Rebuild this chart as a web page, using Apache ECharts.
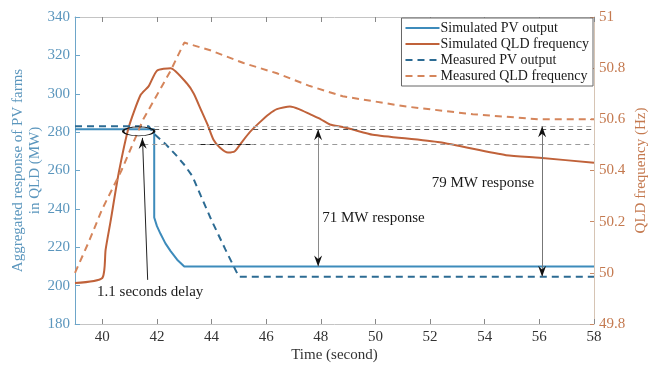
<!DOCTYPE html>
<html>
<head>
<meta charset="utf-8">
<script src="https://cdn.jsdelivr.net/npm/echarts@6/dist/echarts.min.js"></script>
<style>
  html, body { margin: 0; padding: 0; background: #fff; }
  #chart { width: 648px; height: 372px; }
</style>
</head>
<body>
<div id="chart"></div>
<script>
// values: time in seconds, PV in MW, frequency in Hz
const xTicks = [40, 42, 44, 46, 48, 50, 52, 54, 56, 58];

const simPV = [
  [39, 281.5], [41.9, 281.5], [41.9, 235.5], [42.0, 231], [42.13, 227], [42.31, 222],
  [42.5, 218], [42.74, 213.5], [43.0, 210], [58, 210],
];
const measPV = [
  [39, 283], [41.7, 283], [41.9, 279], [42.3, 274], [42.7, 268], [43.0, 263], [43.3, 257],
  [43.6, 247], [44.0, 234], [44.5, 219], [45.0, 204.6], [58, 204.6],
];
const simQLD = [
  [39, 49.96], [40, 49.98], [40.12, 50.09], [40.3, 50.2], [40.6, 50.39], [40.97, 50.57],
  [41.4, 50.695], [41.7, 50.73], [42.0, 50.79], [42.5, 50.8], [43.1, 50.74], [43.35, 50.7],
  [43.6, 50.64], [43.85, 50.58], [44.07, 50.52], [44.3, 50.49], [44.6, 50.47], [44.85, 50.475],
  [45.1, 50.51], [45.4, 50.55], [45.78, 50.59], [46.1, 50.62], [46.39, 50.64], [46.87, 50.65],
  [47.2, 50.64], [47.6, 50.62], [48.0, 50.6], [48.33, 50.58], [48.8, 50.57], [49.17, 50.56],
  [49.9, 50.54], [52.35, 50.51], [54.78, 50.46], [56.0, 50.45], [58, 50.43],
];
const measQLD = [
  [39, 50.0], [39.5, 50.12], [40, 50.25], [40.7, 50.4], [41.5, 50.6], [42.5, 50.79],
  [43, 50.9], [43.95, 50.87], [45.17, 50.82], [46.39, 50.78], [47.6, 50.73], [48.8, 50.69],
  [51.13, 50.65], [53.56, 50.62], [56.0, 50.6], [58, 50.6],
];

// guide lines and arrows, in MW on the left axis
const guideLines = [
  { from: [41.9, 283], to: [58, 283], color: '#b5b5b5' },
  { from: [41.9, 281.5], to: [58, 281.5], color: '#555' },
  { from: [41.5, 273.5], to: [58, 273.5], color: '#9a9a9a' },
  { from: [43.6, 273.5], to: [45.6, 273.5], color: '#222' },
];
const arrows = [
  { from: [41.66, 203], to: [41.47, 277], color: '#222', both: false },
  { from: [47.9, 210], to: [47.9, 281.5], color: '#8a8a8a', both: true },
  { from: [56.1, 204.6], to: [56.1, 283], color: '#777', both: true },
];
const notes = [
  { text: '1.1 seconds delay', at: [39.79, 196.6] },
  { text: '71 MW response', at: [48.03, 235] },
  { text: '79 MW response', at: [52.04, 253.2] },
];
const delayRing = [41.33, 280.4];

const FONT = 'Liberation Serif';
const BLUE_AXIS = '#5b96bd';
const ORANGE_AXIS = '#c4794f';
const ARROW = 'path://M0,0 L5,12 L0,8 L-5,12 Z';

const arrowHeads = [];
arrows.forEach((a) => {
  arrowHeads.push({ coord: a.to, symbol: ARROW, symbolSize: [8, 11], symbolOffset: [0, '50%'],
    symbolRotate: a.both ? 0 : 2, itemStyle: { color: '#111' } });
  if (a.both) {
    arrowHeads.push({ coord: a.from, symbol: ARROW, symbolSize: [8, 11], symbolOffset: [0, '-50%'],
      symbolRotate: 180, itemStyle: { color: '#111' } });
  }
});

const noteMarks = notes.map((n) => ({
  coord: n.at,
  symbol: 'circle',
  symbolSize: 1,
  itemStyle: { color: 'rgba(0,0,0,0)' },
  label: { show: true, position: 'right', distance: 0, formatter: n.text,
    color: '#1a1a1a', fontFamily: FONT, fontSize: 15 },
}));

const chart = echarts.init(document.getElementById('chart'));

chart.setOption({
  animation: false,
  backgroundColor: '#fff',
  textStyle: { fontFamily: FONT },
  grid: { left: 75, right: 54, top: 17, bottom: 48, containLabel: false, outerBoundsMode: 'none' },
  legend: {
    data: ['Simulated PV output', 'Simulated QLD frequency', 'Measured PV output', 'Measured QLD frequency'],
    orient: 'vertical',
    right: 55,
    top: 18,
    padding: [3, 4, 3, 3],
    itemWidth: 34,
    itemHeight: 14,
    itemGap: 2,
    backgroundColor: '#fff',
    borderColor: '#666',
    borderWidth: 1,
    itemStyle: { opacity: 0, color: 'rgba(0,0,0,0)', borderWidth: 0 },
    textStyle: { fontFamily: FONT, fontSize: 14, color: '#1a1a1a', padding: [0, 0, 0, -4] },
  },
  xAxis: [
    {
      type: 'value',
      min: 39,
      max: 58,
      name: 'Time (second)',
      nameLocation: 'middle',
      nameGap: 24,
      nameMoveOverlap: false,
      nameTextStyle: { fontFamily: FONT, fontSize: 15, color: '#333' },
      axisLine: { lineStyle: { color: '#c4c4c4' } },
      axisTick: { inside: true, length: 5, customValues: xTicks, lineStyle: { color: '#888' } },
      axisLabel: { customValues: xTicks, margin: 6, fontFamily: FONT, fontSize: 15, color: '#333' },
      splitLine: { show: false },
    },
    {
      type: 'value',
      position: 'top',
      min: 39,
      max: 58,
      axisLine: { lineStyle: { color: '#c4c4c4' } },
      axisTick: { inside: true, length: 5, customValues: xTicks, lineStyle: { color: '#888' } },
      axisLabel: { show: false },
      splitLine: { show: false },
    },
  ],
  yAxis: [
    {
      type: 'value',
      min: 180,
      max: 340,
      interval: 20,
      name: 'Aggregated response of PV farms\nin QLD (MW)',
      nameLocation: 'middle',
      nameGap: 31,
      nameMoveOverlap: false,
      nameTextStyle: { fontFamily: FONT, fontSize: 15, color: BLUE_AXIS, lineHeight: 17 },
      axisLine: { show: true, lineStyle: { color: '#6ea6c9' } },
      axisTick: { show: true, inside: true, length: 5, lineStyle: { color: '#6ea6c9' } },
      axisLabel: { margin: 5, fontFamily: FONT, fontSize: 15, color: BLUE_AXIS },
      splitLine: { show: false },
    },
    {
      type: 'value',
      position: 'right',
      min: 49.8,
      max: 51,
      interval: 0.2,
      name: 'QLD frequency (Hz)',
      nameLocation: 'middle',
      nameGap: 40,
      nameMoveOverlap: false,
      nameTextStyle: { fontFamily: FONT, fontSize: 15, color: ORANGE_AXIS },
      axisLine: { show: true, lineStyle: { color: '#d6c4b4' } },
      axisTick: { show: true, inside: true, length: 4, lineStyle: { color: '#c98a66' } },
      axisLabel: { margin: 5, fontFamily: FONT, fontSize: 15, color: ORANGE_AXIS,
        formatter: (v) => String(+v.toFixed(1)) },
      splitLine: { show: false },
    },
  ],
  series: [
    {
      name: 'Simulated PV output',
      type: 'line',
      yAxisIndex: 0,
      data: simPV,
      symbol: 'none',
      color: '#3d8bbb',
      lineStyle: { width: 2 },
      z: 3,
      markLine: {
        silent: true,
        symbol: ['none', 'none'],
        label: { show: false },
        data: guideLines.map((g) => [
          { coord: g.from, lineStyle: { color: g.color, width: 1, type: [5, 4] } },
          { coord: g.to },
        ]).concat(arrows.map((a) => [
          { coord: a.from, lineStyle: { color: a.color, width: 1, type: 'solid' } },
          { coord: a.to },
        ])),
      },
      markPoint: {
        silent: true,
        data: arrowHeads.concat(noteMarks, [{
          coord: delayRing,
          symbol: 'circle',
          symbolSize: [31, 9],
          itemStyle: { color: 'rgba(0,0,0,0)', borderColor: '#111', borderWidth: 1.3 },
        }]),
      },
    },
    {
      name: 'Simulated QLD frequency',
      type: 'line',
      yAxisIndex: 1,
      data: simQLD,
      symbol: 'none',
      smooth: 0.2,
      color: '#c0623a',
      lineStyle: { width: 2 },
    },
    {
      name: 'Measured PV output',
      type: 'line',
      yAxisIndex: 0,
      data: measPV,
      symbol: 'none',
      color: '#2c6b93',
      lineStyle: { width: 2, type: [7, 5] },
    },
    {
      name: 'Measured QLD frequency',
      type: 'line',
      yAxisIndex: 1,
      data: measQLD,
      symbol: 'none',
      color: '#d5855b',
      lineStyle: { width: 2, type: [7, 5] },
    },
  ],
});
</script>
</body>
</html>
